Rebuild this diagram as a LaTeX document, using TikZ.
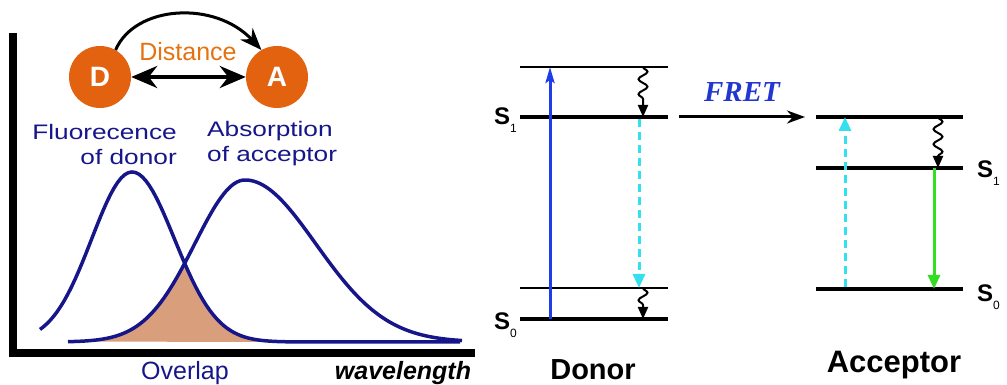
\documentclass[tikz,border=0pt]{standalone}
\usepackage{fontspec}
\setmainfont{Liberation Sans}
\newfontfamily\widefont[FakeStretch=1.25]{Liberation Sans}
\newfontfamily\fretfont{Liberation Serif}
\usetikzlibrary{arrows.meta,decorations.pathmorphing}
\definecolor{dyeorange}{HTML}{E2620F}
\definecolor{navyline}{HTML}{16168A}
\definecolor{overlapfill}{HTML}{D99E7C}
\definecolor{pumpblue}{HTML}{1E3CE8}
\definecolor{emitcyan}{HTML}{33E0EE}
\definecolor{emitgreen}{HTML}{33DD22}
\definecolor{fretblue}{HTML}{2236D0}
\newcommand{\Slab}[1]{{\bfseries S}\raisebox{-0.3em}{\fontsize{12}{12}\selectfont #1}}

\begin{document}
\begin{tikzpicture}[
    x=1pt, y=1pt,
    dye/.style={circle, fill=dyeorange, minimum size=62pt, inner sep=0pt, text=white, font=\fontsize{28}{28}\selectfont\bfseries},
    spectrum/.style={navyline, line width=3.5pt, line join=round},
    bluetext/.style={text=navyline, font=\fontsize{21}{25}\selectfont\widefont, inner sep=0pt},
    thicklvl/.style={line width=4pt},
    thinlvl/.style={line width=2.8pt},
    wavy/.style={decorate, decoration={snake, amplitude=4.5pt, segment length=15pt, post length=11pt}, line width=2pt, -{Triangle[length=12pt,width=10pt]}},
    emit/.style={emitcyan, line width=3pt, dash pattern=on 8pt off 5pt, -{Triangle[length=14pt,width=12pt]}},
    lvltext/.style={anchor=base west, inner sep=0pt, font=\fontsize{24}{24}\selectfont},
    declare function={
        fdon(\x)=43+170*exp(-min(((\x-132)/((\x<132)?57:60))^2,9));
        facc(\x)=43+162*exp(-min(((\x-245)/((\x<245)?71:100))^2,9));
    }
]
\useasboundingbox (0,0) rectangle (1007,385);

% spectra
\fill[overlapfill] plot[domain=68:460, samples=120] (\x,{min(fdon(\x),facc(\x))}) -- cycle;
\draw[spectrum] plot[domain=40:460, samples=120] (\x,{fdon(\x)});
\draw[spectrum] plot[domain=68:462, samples=120] (\x,{facc(\x)});
\draw[line width=8pt, line join=miter] (13,352) -- (13,32) -- (475,32);

\node[dye] (D) at (100,308) {D};
\node[dye] (A) at (277,308) {A};
\draw[{Stealth[length=26pt,width=22pt]}-{Stealth[length=26pt,width=22pt]}, line width=4pt] (D) -- (A);
\draw[-{Stealth[length=22pt,width=17pt]}, line width=3pt] (D.60) .. controls (135,380) and (215,385) .. (A.120);
\node[text=dyeorange!90!yellow, font=\fontsize{25}{25}\selectfont] (dist) at (188,333) {Distance};
\node[bluetext, align=right, anchor=east] (fluo) at (177,241) {Fluorecence\\of donor};
\node[bluetext, align=left, anchor=west] (absp) at (207,241) {Absorption\\of acceptor};
\node[text=navyline, font=\fontsize{25}{25}\selectfont] (ovl) at (185,12) {Overlap};
\node[font=\fontsize{25}{25}\selectfont\bfseries\itshape] (wl) at (403,12) {wavelength};

% donor levels
\coordinate (dtop) at (520,318);
\coordinate (dS1) at (520,268);
\coordinate (dvib) at (520,97);
\coordinate (dS0) at (520,66);
\draw[thinlvl] (dtop) -- +(148,0);
\draw[thicklvl] (dS1) -- +(148,0);
\draw[thinlvl] (dvib) -- +(148,0);
\draw[thicklvl] (dS0) -- +(148,0);
\draw[pumpblue, line width=3pt, -{Stealth[length=16pt,width=9pt,inset=3pt]}] ([xshift=30pt]dS0) -- ([xshift=30pt]dtop);
\draw[wavy] ([xshift=123pt]dtop) -- ([xshift=123pt]dS1);
\draw[emit] ([xshift=119pt,yshift=-2pt]dS1) -- ([xshift=119pt]dvib);
\draw[wavy] ([xshift=123pt]dvib) -- ([xshift=123pt]dS0);
\node[lvltext] (ldS1) at (494,260) {\Slab{1}};
\node[lvltext] (ldS0) at (494,55) {\Slab{0}};
\node[font=\fontsize{29}{29}\selectfont\bfseries] (donor) at (593,15) {Donor};

% transfer
\draw[line width=3pt, -{Stealth[length=18pt,width=13pt]}] ([xshift=159pt]dS1) -- ([xshift=285pt]dS1);
\node[text=fretblue, font=\fontsize{29}{29}\selectfont\fretfont\bfseries\itshape] (fret) at (742,293) {FRET};

% acceptor levels
\coordinate (atop) at (816,268);
\coordinate (aS1) at (816,217);
\coordinate (aS0) at (816,96);
\draw[thicklvl] (atop) -- +(147,0);
\draw[thicklvl] (aS1) -- +(147,0);
\draw[thicklvl] (aS0) -- +(147,0);
\draw[emit] ([xshift=29pt,yshift=2pt]aS0) -- ([xshift=29pt]atop);
\draw[wavy] ([xshift=122pt]atop) -- ([xshift=122pt]aS1);
\draw[emitgreen, line width=3pt, -{Triangle[length=14pt,width=12pt]}] ([xshift=118pt]aS1) -- ([xshift=118pt]aS0);
\node[lvltext] (laS1) at (977,207) {\Slab{1}};
\node[lvltext] (laS0) at (977,83) {\Slab{0}};
\node[font=\fontsize{31}{31}\selectfont\bfseries] (acc) at (894,20) {Acceptor};
\end{tikzpicture}
\end{document}
